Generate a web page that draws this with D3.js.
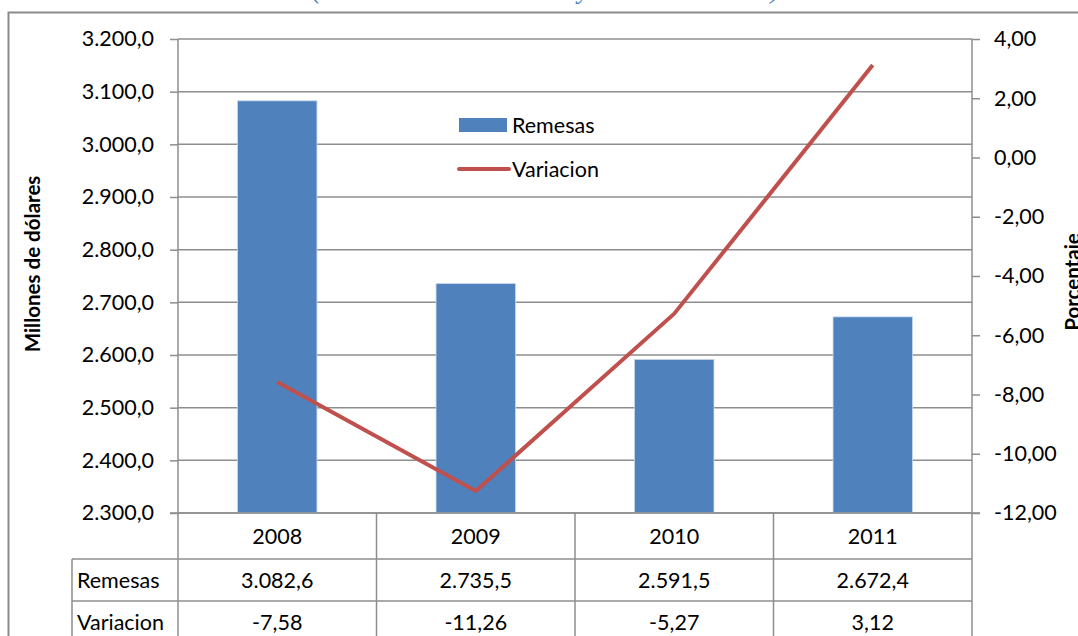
<!DOCTYPE html>
<html>
<head>
<meta charset="utf-8">
<script src="https://cdn.jsdelivr.net/npm/d3@7"></script>
<style>
    body { margin: 0; background: #fff; }
    svg text { font-family: Lato, "Open Sans", sans-serif; fill: #000; }
</style>
</head>
<body>
<div id="chart"></div>
<script>
// data
let years = ["2008", "2009", "2010", "2011"];
let remesas = [3082.6, 2735.5, 2591.5, 2672.4];
let variacion = [-7.58, -11.26, -5.27, 3.12];
let leftTicks = [2300, 2400, 2500, 2600, 2700, 2800, 2900, 3000, 3100, 3200];
let rightTicks = [-12, -10, -8, -6, -4, -2, 0, 2, 4];
let rowLabels = ["Remesas", "Variacion"];

let width = 1078, height = 636;
let plotL = 178, plotR = 972, plotT = 39, plotB = 513;
let rowH = [46, 42, 42];
let labelX = 72;
let grid = "#8e8e8e";
let fs = "21.5px";

let locale = d3.formatLocale({decimal: ",", thousands: ".", grouping: [3], currency: ["", ""], minus: "-"});
let fmt1 = locale.format(",.1f"), fmt2 = locale.format(",.2f");

let svg = d3.select("#chart").append("svg")
    .attr("width", width)
    .attr("height", height);

// title, mostly cut off by the top edge
svg.append("text")
    .attr("x", 312)
    .attr("y", -2)
    .style("font-family", "'Liberation Serif', serif")
    .style("font-style", "italic")
    .style("font-size", "27.3px")
    .style("fill", "#4f7fc0")
    .text("(En millones de dólares y variación anual)");

// outer frame
svg.append("rect")
    .attr("x", 8.5).attr("y", 12.5)
    .attr("width", width + 20).attr("height", height + 20)
    .attr("fill", "none")
    .attr("stroke", "#8a8a8a")
    .attr("stroke-width", 2);

let x = d3.scaleBand().domain(years).range([plotL, plotR]);
let yL = d3.scaleLinear().domain([2300, 3200]).range([plotB, plotT]);
let yR = d3.scaleLinear().domain([-12, 4]).range([plotB, plotT]);

// gridlines
svg.append("g")
    .selectAll("line")
    .data(leftTicks)
    .enter().append("line")
    .attr("x1", plotL).attr("x2", plotR)
    .attr("y1", function(d) { return yL(d); })
    .attr("y2", function(d) { return yL(d); })
    .attr("stroke", grid)
    .attr("stroke-width", 1.5);

// bars
svg.append("g")
    .selectAll("rect")
    .data(remesas)
    .enter().append("rect")
    .attr("x", function(d, i) { return x(years[i]) + x.bandwidth() * 0.3; })
    .attr("width", x.bandwidth() * 0.4)
    .attr("y", function(d) { return yL(d); })
    .attr("height", function(d) { return plotB - yL(d); })
    .attr("fill", "#4f81bd")
    .attr("stroke", "#c6d6ea")
    .attr("stroke-width", 0.8);

// line
let line = d3.line()
    .x(function(d, i) { return x(years[i]) + x.bandwidth() / 2; })
    .y(function(d) { return yR(d); });

svg.append("path")
    .datum(variacion)
    .attr("d", line)
    .attr("fill", "none")
    .attr("stroke", "#c0504d")
    .attr("stroke-width", 4)
    .attr("stroke-linejoin", "round");

// axes
let axisL = svg.append("g")
    .attr("transform", "translate(" + plotL + ",0)")
    .call(d3.axisLeft(yL).tickValues(leftTicks).tickFormat(fmt1).tickSize(8).tickPadding(16));
let axisR = svg.append("g")
    .attr("transform", "translate(" + plotR + ",0)")
    .call(d3.axisRight(yR).tickValues(rightTicks).tickFormat(fmt2).tickSize(8).tickPadding(14));
[axisL, axisR].forEach(function(a) {
    a.select(".domain").remove();
    a.selectAll("line").attr("stroke", grid).attr("stroke-width", 1.5);
    a.selectAll("text").style("font-size", fs).style("font-family", "Lato, sans-serif");
});

// table
let rowY = [plotB, plotB + rowH[0], plotB + rowH[0] + rowH[1], plotB + rowH[0] + rowH[1] + rowH[2]];
let tbl = svg.append("g").attr("stroke", grid).attr("stroke-width", 1.5);
tbl.append("line").attr("x1", plotL - 8).attr("x2", plotR + 8).attr("y1", plotB).attr("y2", plotB);
tbl.append("line").attr("x1", plotL).attr("x2", plotL).attr("y1", plotT).attr("y2", height);
tbl.append("line").attr("x1", plotR).attr("x2", plotR).attr("y1", plotT).attr("y2", height);
tbl.append("line").attr("x1", labelX).attr("x2", labelX).attr("y1", rowY[1]).attr("y2", height);
[rowY[1], rowY[2]].forEach(function(yy) {
    tbl.append("line").attr("x1", labelX).attr("x2", plotR).attr("y1", yy).attr("y2", yy);
});
tbl.selectAll(".sep")
    .data(years.slice(1))
    .enter().append("line")
    .attr("class", "sep")
    .attr("x1", function(d) { return x(d); })
    .attr("x2", function(d) { return x(d); })
    .attr("y1", plotB).attr("y2", height);

let cx = function(d, i) { return x(years[i]) + x.bandwidth() / 2; };
let rows = [years, remesas.map(fmt1), variacion.map(fmt2)];
rows.forEach(function(r, k) {
    svg.append("g")
        .selectAll("text")
        .data(r)
        .enter().append("text")
        .attr("x", cx)
        .attr("y", (rowY[k] + rowY[k + 1]) / 2)
        .attr("dy", "0.35em")
        .attr("text-anchor", "middle")
        .style("font-size", fs)
        .text(function(d) { return d; });
});
svg.append("g")
    .selectAll("text")
    .data(rowLabels)
    .enter().append("text")
    .attr("x", labelX + 5)
    .attr("y", function(d, i) { return (rowY[i + 1] + rowY[i + 2]) / 2; })
    .attr("dy", "0.35em")
    .style("font-size", fs)
    .text(function(d) { return d; });

// axis titles
svg.append("text")
    .attr("transform", "translate(40,264) rotate(-90)")
    .attr("text-anchor", "middle")
    .style("font-size", "20.5px")
    .style("font-weight", "bold")
    .text("Millones de dólares");
svg.append("text")
    .attr("transform", "translate(1080,282) rotate(-90)")
    .attr("text-anchor", "middle")
    .style("font-size", "20.5px")
    .style("font-weight", "bold")
    .text("Porcentaje");

// legend
let legend = svg.append("g").attr("transform", "translate(457,0)");
legend.append("rect")
    .attr("x", 2).attr("y", 118).attr("width", 48).attr("height", 14)
    .attr("fill", "#4f81bd");
legend.append("line")
    .attr("x1", 2).attr("x2", 52).attr("y1", 169).attr("y2", 169)
    .attr("stroke", "#c0504d").attr("stroke-width", 4).attr("stroke-linecap", "round");
legend.selectAll("text")
    .data(["Remesas", "Variacion"])
    .enter().append("text")
    .attr("x", 55)
    .attr("y", function(d, i) { return 125 + i * 44; })
    .attr("dy", "0.35em")
    .style("font-size", fs)
    .text(function(d) { return d; });
</script>
</body>
</html>
